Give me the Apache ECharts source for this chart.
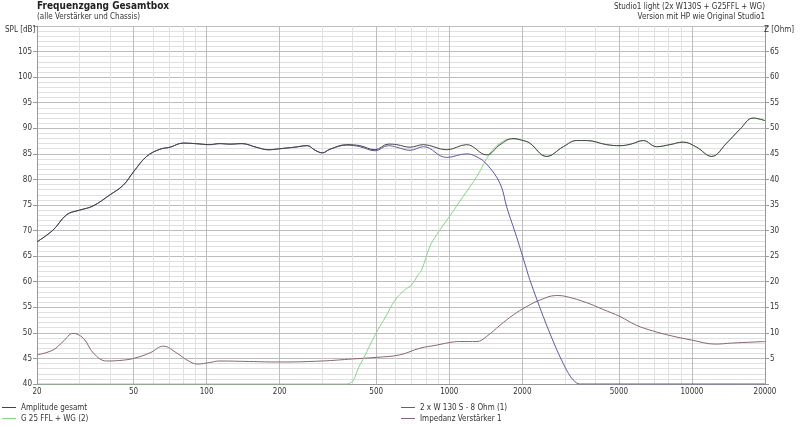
<!DOCTYPE html>
<html>
<head>
<meta charset="utf-8">
<script src="https://cdn.jsdelivr.net/npm/echarts@6/dist/echarts.min.js"></script>
<style>html,body{margin:0;padding:0;background:#fff}#c{width:800px;height:427px}</style>
</head>
<body>
<div id="c"></div>
<script>
// ---- data (frequency in Hz) ----
const xMajorTicks = [20, 50, 100, 200, 500, 1000, 2000, 5000, 10000, 20000];
const xMinorTicks = [30, 40, 60, 70, 80, 90, 300, 400, 600, 700, 800, 900, 3000, 4000, 6000, 7000, 8000, 9000];

const ampFreq = [20, 23.3, 26.5, 30, 34, 40, 45.4, 50, 56.6, 64.2, 70.6, 80, 90, 103, 113, 125, 140, 160, 180, 200, 230, 260, 280, 300, 322, 378, 428, 494, 560, 607, 689, 782, 975, 1179, 1425, 1619, 1835, 2017, 2146, 2518, 2949, 3348, 3683, 4452, 5050, 5600, 6300, 7148, 8110, 9205, 10450, 12050, 13900, 15760, 17870, 20000];
const ampDb   = [67.8, 70.1, 73.1, 74.0, 74.8, 77.0, 78.9, 81.5, 84.5, 85.9, 86.3, 87.1, 87.0, 86.8, 87.0, 86.9, 87.0, 86.3, 85.8, 86.0, 86.3, 86.6, 85.7, 85.2, 85.9, 86.8, 86.6, 85.8, 86.9, 86.8, 86.3, 86.8, 85.8, 86.8, 84.8, 86.8, 88.0, 87.6, 87.1, 84.5, 86.4, 87.6, 87.6, 86.8, 86.6, 86.9, 87.6, 86.4, 86.8, 87.3, 86.3, 84.5, 87.1, 89.8, 92.0, 91.5];

const wooFreq = [20, 23.3, 26.5, 30, 34, 40, 45.4, 50, 56.6, 64.2, 70.6, 80, 90, 103, 113, 125, 140, 160, 180, 200, 230, 260, 280, 300, 322, 378, 428, 494, 560, 607, 689, 782, 975, 1179, 1300, 1425, 1619, 1727, 1893, 2077, 2146, 2439, 2700, 2949, 3165, 3348, 3450, 5000, 10000, 20000];
const wooDb   = [67.8, 70.1, 73.1, 74.0, 74.8, 77.0, 78.9, 81.5, 84.5, 85.9, 86.3, 87.1, 87.0, 86.8, 87.0, 86.9, 87.0, 86.3, 85.8, 86.0, 86.3, 86.6, 85.7, 85.2, 85.9, 86.7, 86.4, 85.6, 86.6, 86.3, 85.7, 86.4, 84.3, 85.0, 84.4, 83.0, 79.2, 74.5, 68.8, 62.6, 60.4, 53.2, 48.0, 44.0, 41.4, 40.2, 40, 40, 40, 40];

const twFreq = [20, 100, 378, 428, 471, 508, 546, 598, 655, 700, 742, 769, 832, 887, 1000, 1142, 1300, 1471, 1619, 1779, 2017, 2146, 2518, 2949, 3348, 3683, 4452, 5050, 5600, 6300, 7148, 8110, 9205, 10450, 12050, 13900, 15760, 17870, 20000];
const twDb   = [40, 40, 40, 43.7, 47.6, 50.6, 53.1, 56.4, 58.4, 59.4, 61.3, 62.3, 66.9, 69.2, 72.7, 76.7, 80.6, 85.1, 87.1, 87.9, 87.6, 87.1, 84.5, 86.4, 87.6, 87.6, 86.8, 86.6, 86.9, 87.6, 86.4, 86.8, 87.3, 86.3, 84.5, 87.1, 89.8, 92.0, 91.5];

const impFreq = [20, 23.3, 25.6, 28.2, 31.1, 34.2, 38.7, 43.9, 50, 58.5, 66.3, 75.6, 82.9, 91.6, 103, 113, 150, 200, 300, 400, 500, 626, 757, 887, 1000, 1100, 1300, 1425, 1619, 1835, 2077, 2360, 2760, 3030, 3683, 4290, 5050, 5890, 6870, 8260, 9950, 12500, 14560, 17870, 20000];
const impOhm  = [5.7, 6.65, 8.3, 9.9, 8.9, 6.0, 4.5, 4.6, 5.0, 6.1, 7.4, 6.0, 4.7, 3.9, 4.2, 4.5, 4.4, 4.3, 4.5, 4.9, 5.2, 5.7, 7.0, 7.6, 8.1, 8.3, 8.3, 9.3, 11.5, 13.5, 15.1, 16.4, 17.3, 17.1, 15.9, 14.6, 13.2, 11.5, 10.4, 9.4, 8.6, 7.8, 8.0, 8.2, 8.3];

// ---- chart ----
const FONT = "'DejaVu Sans Condensed', 'DejaVu Sans', sans-serif";
const lg = v => Math.log10(v);
const pairs = (f, v) => f.map((x, i) => [lg(x), v[i]]);

const chart = echarts.init(document.getElementById('c'), null, {renderer: 'canvas'});
const xmin = lg(20), xmax = lg(20000);
const small = {fontSize: 8, fontWeight: 'normal', color: '#333', fontFamily: FONT};

const option = {
  animation: false,
  backgroundColor: '#fff',
  textStyle: {fontFamily: FONT},
  title: [
    {text: 'Frequenzgang Gesamtbox', left: 37, top: 1, padding: 0, textStyle: {fontSize: 10, fontWeight: 'bold', color: '#222', fontFamily: FONT}},
    {text: '(alle Verstärker und Chassis)', left: 37, top: 13, padding: 0, textStyle: small},
    {text: 'Studio1 light (2x W130S + G25FFL + WG)', right: 35, top: 3, padding: 0, textStyle: small},
    {text: 'Version mit HP wie Original Studio1', right: 35, top: 13, padding: 0, textStyle: small},
    {text: 'SPL [dB]', left: 5, top: 26, padding: 0, textStyle: small},
    {text: 'Z [Ohm]', left: 764, top: 26, padding: 0, textStyle: small}
  ],
  legend: [
    {orient: 'vertical', left: 2, top: 402, padding: 0, itemGap: 0, itemWidth: 14, itemHeight: 1, icon: 'rect',
     textStyle: {fontSize: 8, color: '#333', lineHeight: 11, fontFamily: FONT},
     data: ['Amplitude gesamt', 'G 25 FFL + WG (2)']},
    {orient: 'vertical', left: 401, top: 402, padding: 0, itemGap: 0, itemWidth: 14, itemHeight: 1, icon: 'rect',
     textStyle: {fontSize: 8, color: '#333', lineHeight: 11, fontFamily: FONT},
     data: ['2 x W 130 S - 8 Ohm (1)', 'Impedanz Verstärker 1']}
  ],
  grid: {left: 37, right: 35, top: 26, bottom: 43, containLabel: false},
  xAxis: [
    {type: 'value', min: xmin, max: xmax, position: 'bottom',
     axisLine: {show: true, lineStyle: {color: '#999'}},
     axisTick: {show: false, customValues: xMajorTicks.map(lg)},
     axisLabel: {show: true, customValues: xMajorTicks.map(lg), margin: 4, fontSize: 8, color: '#333', fontFamily: FONT,
                 formatter: v => String(Math.round(Math.pow(10, v)))},
     splitLine: {show: true, lineStyle: {color: '#bdbdbd', width: 1}}},
    {type: 'value', min: xmin, max: xmax, position: 'top',
     axisLine: {show: false}, axisLabel: {show: false},
     axisTick: {show: false, customValues: xMinorTicks.map(lg)},
     splitLine: {show: true, lineStyle: {color: '#e0e0e0', width: 1}}}
  ],
  yAxis: [
    {type: 'value', min: 40, max: 110, interval: 5, position: 'left',
     axisLine: {show: true, lineStyle: {color: '#999'}},
     axisTick: {show: true, length: 4, lineStyle: {color: '#999'}},
     axisLabel: {margin: 5, fontSize: 8, color: '#333', fontFamily: FONT, formatter: v => v === 110 ? '' : String(v)},
     splitLine: {show: true, lineStyle: {color: '#bdbdbd'}},
     minorTick: {show: false, splitNumber: 5},
     minorSplitLine: {show: true, lineStyle: {color: '#e0e0e0'}}},
    {type: 'value', min: 0, max: 70, interval: 5, position: 'right',
     axisLine: {show: true, lineStyle: {color: '#999'}},
     axisTick: {show: true, length: 4, lineStyle: {color: '#999'}},
     axisLabel: {margin: 5, fontSize: 8, color: '#333', fontFamily: FONT, formatter: v => (v === 0 || v === 70) ? '' : String(v)},
     splitLine: {show: false}}
  ],
  series: [
    {name: 'Impedanz Verstärker 1', type: 'line', xAxisIndex: 0, yAxisIndex: 1, data: pairs(impFreq, impOhm),
     showSymbol: false, symbol: 'none', smooth: 0.4, lineStyle: {color: '#8a6478', width: 1}, itemStyle: {color: '#8a6478'}},
    {name: 'G 25 FFL + WG (2)', type: 'line', xAxisIndex: 0, yAxisIndex: 0, data: pairs(twFreq, twDb),
     showSymbol: false, symbol: 'none', smooth: 0.4, lineStyle: {color: '#86d486', width: 1}, itemStyle: {color: '#86d486'}},
    {name: '2 x W 130 S - 8 Ohm (1)', type: 'line', xAxisIndex: 0, yAxisIndex: 0, data: pairs(wooFreq, wooDb),
     showSymbol: false, symbol: 'none', smooth: 0.4, lineStyle: {color: '#5a5a9e', width: 1}, itemStyle: {color: '#5a5a9e'}},
    {name: 'Amplitude gesamt', type: 'line', xAxisIndex: 0, yAxisIndex: 0, data: pairs(ampFreq, ampDb),
     showSymbol: false, symbol: 'none', smooth: 0.4, lineStyle: {color: '#444', width: 1}, itemStyle: {color: '#444'}}
  ]
};
chart.setOption(option);
</script>
</body>
</html>
